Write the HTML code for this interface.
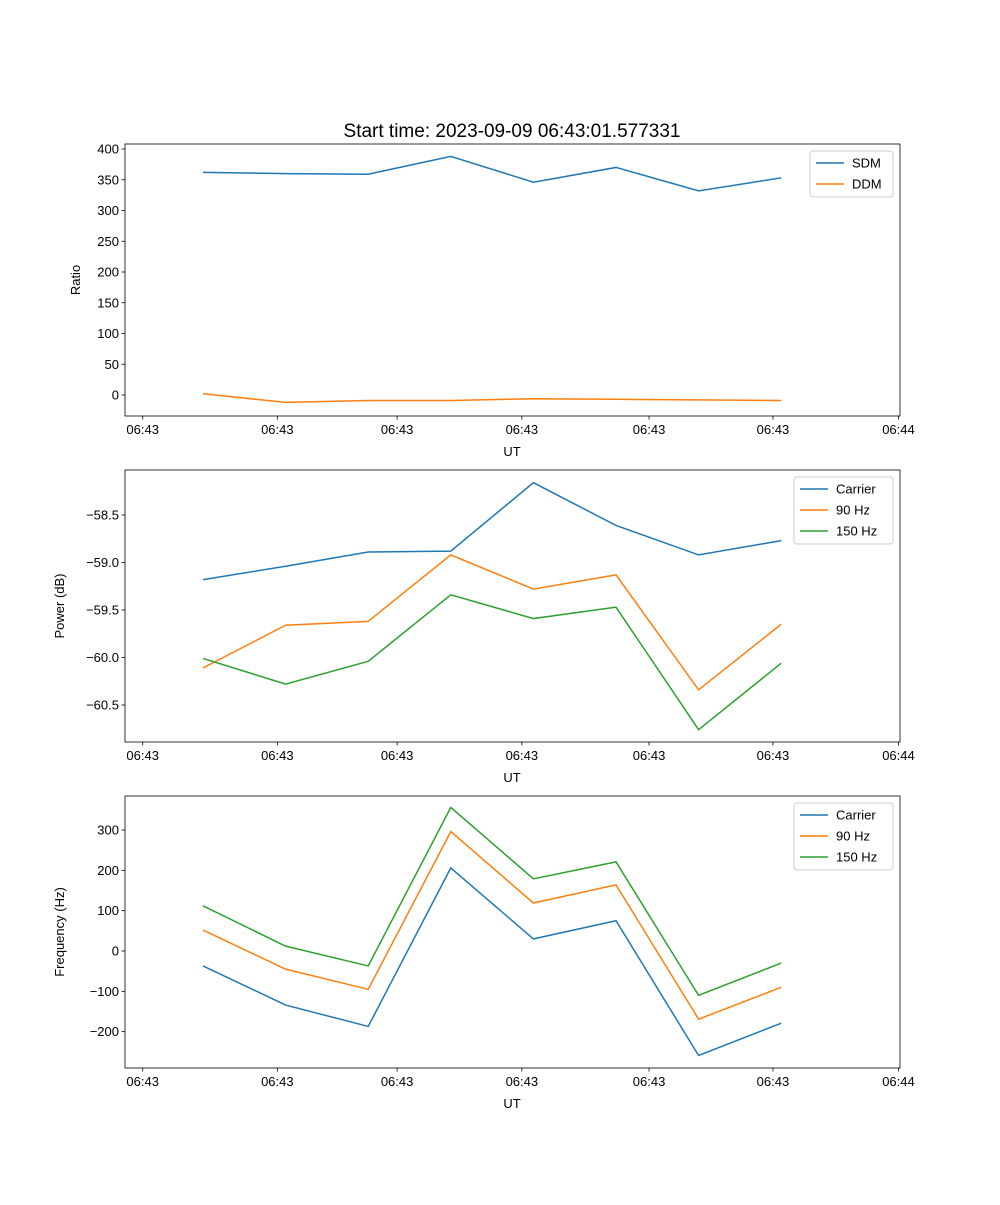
<!DOCTYPE html>
<html><head><meta charset="utf-8"><style>
body{margin:0;background:#fff}
svg text{font-family:"Liberation Sans","DejaVu Sans",sans-serif;fill:#000}
</style></head><body>
<svg id="fig" width="1000" height="1200" xmlns="http://www.w3.org/2000/svg"></svg>
<script>
const timeIdx=[0,1,2,3,4,5,6,7];
const xTickPos=[-0.73,0.9,2.35,3.86,5.4,6.9,8.42];
const xTickLabels=["06:43","06:43","06:43","06:43","06:43","06:43","06:44"];
const sdm=[362,360,359,388,346,370,332,353];
const ddm=[2,-12,-9,-9,-6,-7,-8,-9];
const powCarrier=[-59.18,-59.04,-58.89,-58.88,-58.16,-58.61,-58.92,-58.77];
const pow90=[-60.11,-59.66,-59.62,-58.92,-59.28,-59.13,-60.34,-59.65];
const pow150=[-60.01,-60.28,-60.04,-59.34,-59.59,-59.47,-60.76,-60.06];
const frqCarrier=[-37,-134,-187,206,30,75,-259,-179];
const frq90=[52,-45,-95,296,119,164,-169,-90];
const frq150=[112,12,-37,356,179,221,-110,-30];
const ratioTicks=[0,50,100,150,200,250,300,350,400];
const powTicks=[-60.5,-60.0,-59.5,-59.0,-58.5];
const frqTicks=[-200,-100,0,100,200,300];
const C=["#1f77b4","#ff7f0e","#2ca02c"];
const NS="http://www.w3.org/2000/svg";
const svg=document.getElementById("fig");
function el(t,a,p){const e=document.createElementNS(NS,t);for(const k in a)e.setAttribute(k,a[k]);(p||svg).appendChild(e);return e;}
const xs=t=>203+t*82.6;
const title=el("text",{x:512,y:137,"text-anchor":"middle","font-size":"19"});title.textContent="Start time: 2023-09-09 06:43:01.577331";


function panel(name,top,v0,p0,v1,p1,ticks,fmt,ylab,series,labels,legW){
 const g=el("g",{});
 
 
 const ys=v=>p0+(v-v0)*(p1-p0)/(v1-v0);
 const L=125,R=900,T=top,B=top+272;
 series.forEach((s,i)=>{
  const pl=el("polyline",{points:s.map((v,j)=>xs(timeIdx[j])+","+ys(v)).join(" "),fill:"none",stroke:C[i],"stroke-width":1.5},g);
  
  
 });
 const fr=el("rect",{x:L,y:T,width:R-L,height:B-T,fill:"none",stroke:"#000","stroke-width":0.8},g);
 
 
 ticks.forEach(v=>{const y=ys(v);el("line",{x1:L-3.5,x2:L,y1:y,y2:y,stroke:"#000","stroke-width":0.8},g);
  const t=el("text",{x:L-6,y:y+4.5,"text-anchor":"end","font-size":"13"},g);t.textContent=fmt(v);
  
  });
 xTickPos.forEach((p,i)=>{const x=xs(p);el("line",{x1:x,x2:x,y1:B,y2:B+3.5,stroke:"#000","stroke-width":0.8},g);
  const t=el("text",{x:x,y:B+18,"text-anchor":"middle","font-size":"13"},g);t.textContent=xTickLabels[i];
  
  });
 const xl=el("text",{x:512,y:B+40,"text-anchor":"middle","font-size":"13"},g);xl.textContent="UT";
 
 
 const yl=el("text",{x:0,y:0,"text-anchor":"middle","font-size":"13",transform:`translate(${name==="ratio"?80:64},${(T+B)/2}) rotate(-90)`},g);yl.textContent=ylab;
 
 
 const lx=R-7-legW, ly=T+7;
 const lg=el("g",{},g);
 
 
 el("rect",{x:lx,y:ly,width:legW,height:labels.length*21+4,rx:3,fill:"#fff",stroke:"#ccc","stroke-width":1},lg);
 labels.forEach((lb,i)=>{const yy=ly+12+i*21;
  el("line",{x1:lx+6,x2:lx+34,y1:yy,y2:yy,stroke:C[i],"stroke-width":1.5},lg);
  const t=el("text",{x:lx+42,y:yy+4.5,"font-size":"13"},lg);t.textContent=lb;
  
  });
}
panel("ratio",144,0,395,400,149,ratioTicks,v=>String(v),"Ratio",[sdm,ddm],["SDM","DDM"],83);
panel("power",470,-58.5,515,-60.5,705,powTicks,v=>v.toFixed(1).replace("-","−"),"Power (dB)",[powCarrier,pow90,pow150],["Carrier","90 Hz","150 Hz"],99);
panel("frequency",796,0,951,300,830,frqTicks,v=>String(v).replace("-","−"),"Frequency (Hz)",[frqCarrier,frq90,frq150],["Carrier","90 Hz","150 Hz"],99);
</script>
</body></html>
